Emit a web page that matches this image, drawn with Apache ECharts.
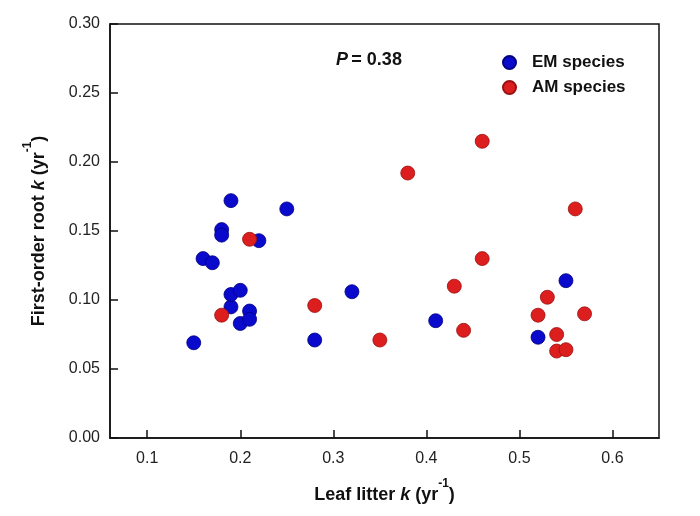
<!DOCTYPE html>
<html>
<head>
<meta charset="utf-8">
<script src="https://cdn.jsdelivr.net/npm/echarts@6/dist/echarts.min.js"></script>
<style>html,body{margin:0;padding:0;background:#fff}#c{width:700px;height:516px}</style>
</head>
<body>
<div id="c"></div>
<script>
const emX = [0.15,0.16,0.17,0.18,0.18,0.19,0.19,0.19,0.20,0.20,0.21,0.21,0.22,0.25,0.28,0.32,0.41,0.52,0.55];
const emY = [0.069,0.130,0.127,0.151,0.147,0.172,0.095,0.104,0.107,0.083,0.092,0.086,0.143,0.166,0.071,0.106,0.085,0.073,0.114];
const amX = [0.18,0.21,0.28,0.35,0.38,0.43,0.44,0.46,0.46,0.53,0.52,0.54,0.54,0.55,0.56,0.57];
const amY = [0.089,0.144,0.096,0.071,0.192,0.110,0.078,0.215,0.130,0.102,0.089,0.075,0.063,0.064,0.166,0.090];
const xTicks = [0.1,0.2,0.3,0.4,0.5,0.6];
const seriesNames = ['EM species','AM species'];
const pText = '0.38';

const zip = (a,b) => a.map((v,i)=>[v,b[i]]);
const font = 'Liberation Sans, Arial, sans-serif';
const chart = echarts.init(document.getElementById('c'), null, {renderer:'canvas'});
const titleRich = {
  b:{fontFamily:font,fontSize:18,fontWeight:'bold',color:'#111',lineHeight:26,verticalAlign:'bottom'},
  bi:{fontFamily:font,fontSize:18,fontWeight:'bold',fontStyle:'italic',color:'#111',lineHeight:26,verticalAlign:'bottom'},
  sup:{fontFamily:font,fontSize:12,fontWeight:'bold',color:'#111',lineHeight:26,verticalAlign:'top'}
};
chart.setOption({
  backgroundColor:'#fff',
  animation:false,
  grid:{left:110,right:41,top:24,bottom:78,show:true,borderColor:'#111',borderWidth:1.5,backgroundColor:'transparent'},
  legend:{
    data:seriesNames, orient:'vertical', left:502, top:54, icon:'circle',
    itemWidth:13, itemHeight:13, itemGap:8, padding:0,
    textStyle:{fontFamily:font,fontSize:17,fontWeight:'bold',color:'#111',lineHeight:16,padding:[0,0,0,11]}
  },
  graphic:[{
    type:'text', left:336, top:51,
    style:{
      text:'{i|P} {b|= '+pText+'}',
      rich:{
        i:{fontFamily:font,fontSize:18,fontWeight:'bold',fontStyle:'italic',fill:'#111'},
        b:{fontFamily:font,fontSize:18,fontWeight:'bold',fill:'#111'}
      }
    }
  }],
  xAxis:{
    type:'value', min:0.06, max:0.65,
    axisLine:{show:true,onZero:false,lineStyle:{color:'#111',width:1.5}},
    axisTick:{show:true,inside:true,length:8,customValues:xTicks,lineStyle:{color:'#111',width:1.5}},
    axisLabel:{customValues:xTicks,margin:13,fontFamily:font,fontSize:16,color:'#222',formatter:v=>v.toFixed(1)},
    splitLine:{show:false},
    name:'{b|Leaf litter }{bi|k}{b| (yr}{sup|-1}{b|)}',
    nameLocation:'middle', nameGap:40,
    nameTextStyle:{rich:titleRich}
  },
  yAxis:{
    type:'value', min:0, max:0.3, interval:0.05,
    axisLine:{show:true,onZero:false,lineStyle:{color:'#111',width:1.5}},
    axisTick:{show:true,inside:true,length:8,lineStyle:{color:'#111',width:1.5}},
    axisLabel:{margin:10,fontFamily:font,fontSize:16,color:'#222',formatter:v=>v.toFixed(2)},
    splitLine:{show:false},
    name:'{b|First-order root }{bi|k}{b| (yr}{sup|-1}{b|)}',
    nameLocation:'middle', nameGap:62, nameRotate:90,
    nameTextStyle:{rich:titleRich}
  },
  series:[
    {name:seriesNames[0],type:'scatter',symbolSize:14,data:zip(emX,emY),
     itemStyle:{color:'#0a0acc',borderColor:'#000080',borderWidth:0.8,opacity:1}},
    {name:seriesNames[1],type:'scatter',symbolSize:14,data:zip(amX,amY),
     itemStyle:{color:'#dc1e1e',borderColor:'#9a1010',borderWidth:0.8,opacity:1}}
  ]
});
</script>
</body>
</html>
